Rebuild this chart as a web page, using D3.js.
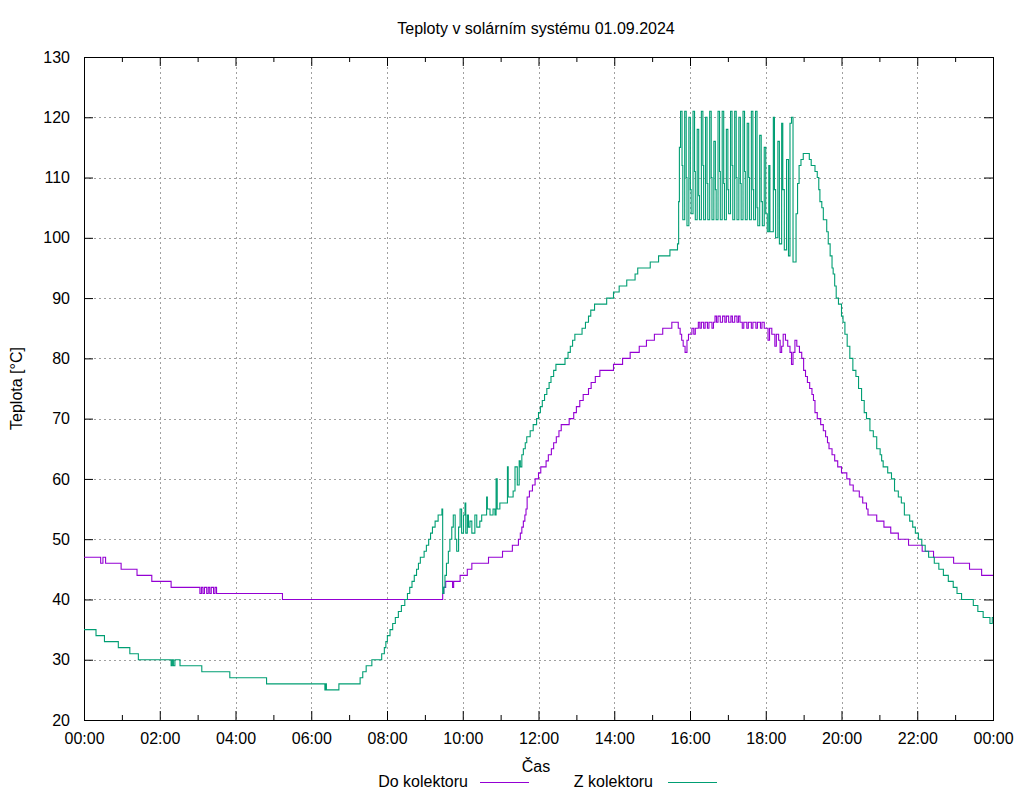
<!DOCTYPE html>
<html>
<head>
<meta charset="utf-8">
<script src="https://cdn.jsdelivr.net/npm/d3@7"></script>
<style>
  html, body { margin: 0; padding: 0; background: #fff; }
  svg text { font-family: "Liberation Sans", Arial, sans-serif; font-size: 16px; fill: #000; }
</style>
</head>
<body>
<svg id="chart" width="1024" height="800"></svg>
<script>
// ---- Data (time in hours, temperature in °C) ----
const title = "Teploty v solárním systému 01.09.2024";
const xLabel = "Čas";
const yLabel = "Teplota [°C]";
const seriesNames = ["Do kolektoru", "Z kolektoru"];
const xTickHours = [0, 2, 4, 6, 8, 10, 12, 14, 16, 18, 20, 22, 24];
const xTickLabels = ["00:00","02:00","04:00","06:00","08:00","10:00","12:00","14:00","16:00","18:00","20:00","22:00","00:00"];
const xMinorHours = [1, 3, 5, 7, 9, 11, 13, 15, 17, 19, 21, 23];
const yTicks = [20, 30, 40, 50, 60, 70, 80, 90, 100, 110, 120, 130];

const doKolektoru = [
  [0,47],[0.44,46],[0.50,47],[0.57,46],[0.98,45],[1.40,44],[1.79,43],[2.30,42],
  [3.06,41],[3.10,42],[3.14,41],[3.18,42],[3.24,41],[3.28,42],[3.32,41],[3.36,42],[3.42,41],[3.46,42],[3.50,41],
  [5.24,40],[9.47,41],[9.50,42],[9.55,43],[9.73,42],[9.76,43],[9.93,44],[10.12,45],[10.24,46],[10.68,47],
  [11.05,48],[11.31,49],[11.47,50],[11.52,51],[11.56,52],[11.60,53],[11.64,54],[11.67,55],[11.70,57],
  [11.76,58],[11.84,59],[11.91,60],[12.00,61],[12.06,62],[12.20,63],[12.26,64],[12.34,65],[12.40,66],
  [12.47,67],[12.54,68],[12.60,69],[12.81,70],[12.93,71],[13.00,72],[13.09,73],[13.18,74],[13.32,75],
  [13.39,76],[13.50,77],[13.62,78],[13.98,79],[14.22,80],[14.42,81],[14.66,82],[14.85,83],[15.06,84],
  [15.28,85],[15.52,86],[15.69,85],[15.74,84],[15.78,83],[15.82,82],[15.87,81],[15.92,83],[15.96,84],
  [16.05,85],[16.10,84],[16.14,85],[16.22,86],[16.26,85],[16.30,86],[16.36,85],[16.40,86],[16.46,85],
  [16.50,86],[16.58,85],[16.62,86],[16.66,87],[16.70,86],[16.74,87],[16.80,86],[16.86,87],[16.92,86],
  [16.96,87],[17.02,86],[17.08,87],[17.12,86],[17.18,87],[17.24,86],[17.28,87],[17.32,86],[17.38,85],
  [17.42,86],[17.50,85],[17.54,86],[17.62,85],[17.66,86],[17.74,85],[17.78,86],[17.86,85],[17.90,86],
  [17.96,85],[18.06,83],[18.10,85],[18.16,84],[18.24,82],[18.28,84],[18.34,83],[18.38,81],[18.42,82],
  [18.46,84],[18.52,83],[18.58,82],[18.64,81],[18.68,79],[18.72,81],[18.77,83],[18.82,82],[18.89,81],
  [18.95,80],[19.00,78],[19.05,77],[19.10,76],[19.16,75],[19.22,74],[19.26,73],[19.30,71],[19.36,70],
  [19.45,69],[19.52,68],[19.58,67],[19.63,66],[19.67,65],[19.75,64],[19.82,63],[19.90,62],[20.00,61],
  [20.14,60],[20.22,59],[20.31,58],[20.47,57],[20.56,56],[20.66,55],[20.70,54],[20.93,53],[21.12,52],
  [21.30,51],[21.50,50],[21.77,49],[22.13,48],[22.43,47],[22.96,46],[23.38,45],[23.70,44],[24,44]
];

const zKolektoru = [
  [0,35],[0.317,34],[0.54,33],[0.906,32],[1.21,31],[1.435,30],[2.30,29],[2.33,30],[2.36,29],[2.40,30],
  [2.535,29],[3.11,28],[3.85,27],[4.82,26],[6.36,25],[6.38,26],[6.40,25],[6.73,26],[7.29,27],[7.36,28],
  [7.45,29],[7.60,30],[7.86,31],[7.93,32],[7.97,33],[8.01,34],[8.08,35],[8.15,36],[8.22,37],[8.30,38],
  [8.38,39],[8.47,40],[8.54,41],[8.60,42],[8.66,43],[8.72,44],[8.78,45],[8.83,46],[8.88,47],[8.98,48],
  [9.04,49],[9.10,50],[9.15,51],[9.20,52],[9.27,53],[9.35,54],[9.45,55],[9.47,41],[9.50,42],[9.53,44],
  [9.57,46],[9.62,48],[9.66,50],[9.71,52],[9.75,54],[9.80,50],[9.84,48],[9.89,52],[9.93,55],[9.97,51],
  [10.02,54],[10.06,56],[10.08,51],[10.12,54],[10.15,52],[10.19,53],[10.24,51],[10.32,54],[10.37,52],
  [10.45,53],[10.50,54],[10.63,57],[10.65,55],[10.72,54],[10.80,55],[10.85,54],[10.88,60],[10.91,55],
  [10.98,56],[11.18,62],[11.20,57],[11.33,58],[11.38,62],[11.44,59],[11.49,63],[11.52,62],[11.56,64],
  [11.60,65],[11.65,66],[11.69,67],[11.78,68],[11.86,69],[11.95,70],[12.00,71],[12.05,72],[12.10,73],
  [12.16,74],[12.22,75],[12.28,76],[12.33,77],[12.40,78],[12.46,79],[12.70,80],[12.78,81],[12.84,82],
  [12.90,83],[12.96,84],[13.15,85],[13.24,86],[13.32,87],[13.38,88],[13.48,89],[13.80,90],[13.98,91],
  [14.13,92],[14.33,93],[14.55,94],[14.62,95],[14.95,96],[15.17,97],[15.47,98],[15.67,99],[15.70,106],
  [15.72,115],[15.75,121],[15.79,112],[15.81,103],[15.86,121],[15.90,110],[15.92,102],[15.97,120],
  [16.01,108],[16.03,104],[16.08,121],[16.12,111],[16.14,103],[16.19,118],[16.23,107],[16.25,103],
  [16.30,121],[16.34,112],[16.36,103],[16.41,120],[16.45,109],[16.47,103],[16.52,121],[16.56,110],
  [16.58,103],[16.63,116],[16.67,108],[16.69,103],[16.74,121],[16.78,111],[16.80,103],[16.85,121],
  [16.89,109],[16.91,103],[16.96,118],[17.00,108],[17.02,104],[17.07,121],[17.11,112],[17.13,103],
  [17.18,121],[17.22,110],[17.24,103],[17.29,120],[17.33,109],[17.35,103],[17.40,121],[17.44,111],
  [17.46,103],[17.51,119],[17.55,110],[17.57,103],[17.62,121],[17.66,108],[17.68,103],[17.73,121],
  [17.77,105],[17.79,102],[17.84,117],[17.88,106],[17.91,102],[17.96,115],[18.00,104],[18.04,101],
  [18.08,112],[18.11,101],[18.20,120],[18.23,108],[18.26,100],[18.32,116],[18.36,99],[18.42,119],
  [18.45,108],[18.49,98],[18.55,113],[18.60,97],[18.64,119],[18.68,120],[18.72,96],[18.80,104],
  [18.84,109],[18.88,112],[18.93,113],[18.99,114],[19.15,113],[19.20,112],[19.30,111],[19.36,110],
  [19.40,108],[19.43,106],[19.48,105],[19.52,103],[19.61,101],[19.65,99],[19.70,97],[19.75,95],
  [19.78,94],[19.82,92],[19.86,90],[19.92,89],[20.00,87],[20.04,86],[20.09,84],[20.15,82],[20.22,80],
  [20.30,78],[20.38,77],[20.45,75],[20.53,73],[20.60,71],[20.66,70],[20.75,68],[20.84,67],[20.93,65],
  [21.02,64],[21.06,63],[21.10,62],[21.22,61],[21.32,60],[21.40,58],[21.50,57],[21.58,56],[21.66,54],
  [21.80,53],[21.88,52],[21.95,51],[22.03,50],[22.12,49],[22.21,48],[22.30,47],[22.45,46],[22.57,45],
  [22.69,44],[22.82,43],[22.95,42],[23.05,41],[23.17,40],[23.48,39],[23.60,38],[23.74,37],[23.92,36],
  [23.98,37],[24,37]
];

const colors = ["#9400d3", "#009e73"];

// ---- Layout ----
const mLeft = 84, mRight = 993, mTop = 57, mBottom = 720;
const svg = d3.select("#chart");
const x = d3.scaleLinear().domain([0, 24]).range([mLeft, mRight]);
const y = d3.scaleLinear().domain([20, 130]).range([mBottom, mTop]);

// Grid
const grid = svg.append("g");
grid.selectAll("line.gx").data(xTickHours.filter(h => h > 0 && h < 24)).enter().append("line")
  .attr("x1", d => Math.round(x(d)) + 0.5).attr("x2", d => Math.round(x(d)) + 0.5).attr("y1", mTop).attr("y2", mBottom)
  .attr("stroke", "#a0a0a0").attr("stroke-dasharray", "2,3").attr("stroke-width", 1);
grid.selectAll("line.gy").data(yTicks.filter(v => v > 20 && v < 130)).enter().append("line")
  .attr("y1", d => Math.round(y(d)) + 0.5).attr("y2", d => Math.round(y(d)) + 0.5).attr("x1", mLeft).attr("x2", mRight)
  .attr("stroke", "#a0a0a0").attr("stroke-dasharray", "2,3").attr("stroke-width", 1);

// Axes
function styleAxis(g) {
  g.select(".domain").remove();
  g.selectAll("line").attr("stroke", "#000");
  g.selectAll("text").attr("font-size", 16).attr("font-family", "Liberation Sans, Arial, sans-serif").attr("fill", "#000");
}
svg.append("g").attr("transform", `translate(0,${mBottom})`)
  .call(d3.axisBottom(x).tickValues(xTickHours).tickSize(-9).tickPadding(13).tickFormat((d, i) => xTickLabels[i]))
  .call(styleAxis);
svg.append("g").attr("transform", `translate(0,${mBottom})`)
  .call(d3.axisBottom(x).tickValues(xMinorHours).tickSize(-5).tickFormat(""))
  .call(styleAxis);
svg.append("g").attr("transform", `translate(0,${mTop})`)
  .call(d3.axisTop(x).tickValues(xTickHours).tickSize(-9).tickFormat(""))
  .call(styleAxis);
svg.append("g").attr("transform", `translate(0,${mTop})`)
  .call(d3.axisTop(x).tickValues(xMinorHours).tickSize(-5).tickFormat(""))
  .call(styleAxis);
svg.append("g").attr("transform", `translate(${mLeft},0)`)
  .call(d3.axisLeft(y).tickValues(yTicks).tickSize(-9).tickPadding(14).tickFormat(d3.format("d")))
  .call(styleAxis);
svg.append("g").attr("transform", `translate(${mRight},0)`)
  .call(d3.axisRight(y).tickValues(yTicks).tickSize(-9).tickFormat(""))
  .call(styleAxis);

// Border
svg.append("rect").attr("x", mLeft + 0.5).attr("y", mTop + 0.5).attr("width", mRight - mLeft).attr("height", mBottom - mTop)
  .attr("fill", "none").attr("stroke", "#000").attr("stroke-width", 1);

// Lines
const line = d3.line().x(d => x(d[0])).y(d => y(d[1])).curve(d3.curveStepAfter);
[doKolektoru, zKolektoru].forEach((s, i) => {
  svg.append("path").datum(s).attr("d", line).attr("fill", "none")
    .attr("stroke", colors[i]).attr("stroke-width", 1.1);
});

// Texts
svg.append("text").attr("x", 536).attr("y", 34).attr("text-anchor", "middle").text(title);
svg.append("text").attr("x", 536).attr("y", 772).attr("text-anchor", "middle").text(xLabel);
svg.append("text").attr("transform", `translate(22,${(mTop + mBottom) / 2}) rotate(-90)`).attr("text-anchor", "middle").text(yLabel);

// Legend
const legendPos = [{tx: 468, lx1: 480, lx2: 529}, {tx: 653, lx1: 668, lx2: 717}];
seriesNames.forEach((name, i) => {
  svg.append("text").attr("x", legendPos[i].tx).attr("y", 787).attr("text-anchor", "end").text(name);
  svg.append("line").attr("x1", legendPos[i].lx1).attr("x2", legendPos[i].lx2).attr("y1", 782.5).attr("y2", 782.5)
    .attr("stroke", colors[i]).attr("stroke-width", 1.1);
});
</script>
</body>
</html>
